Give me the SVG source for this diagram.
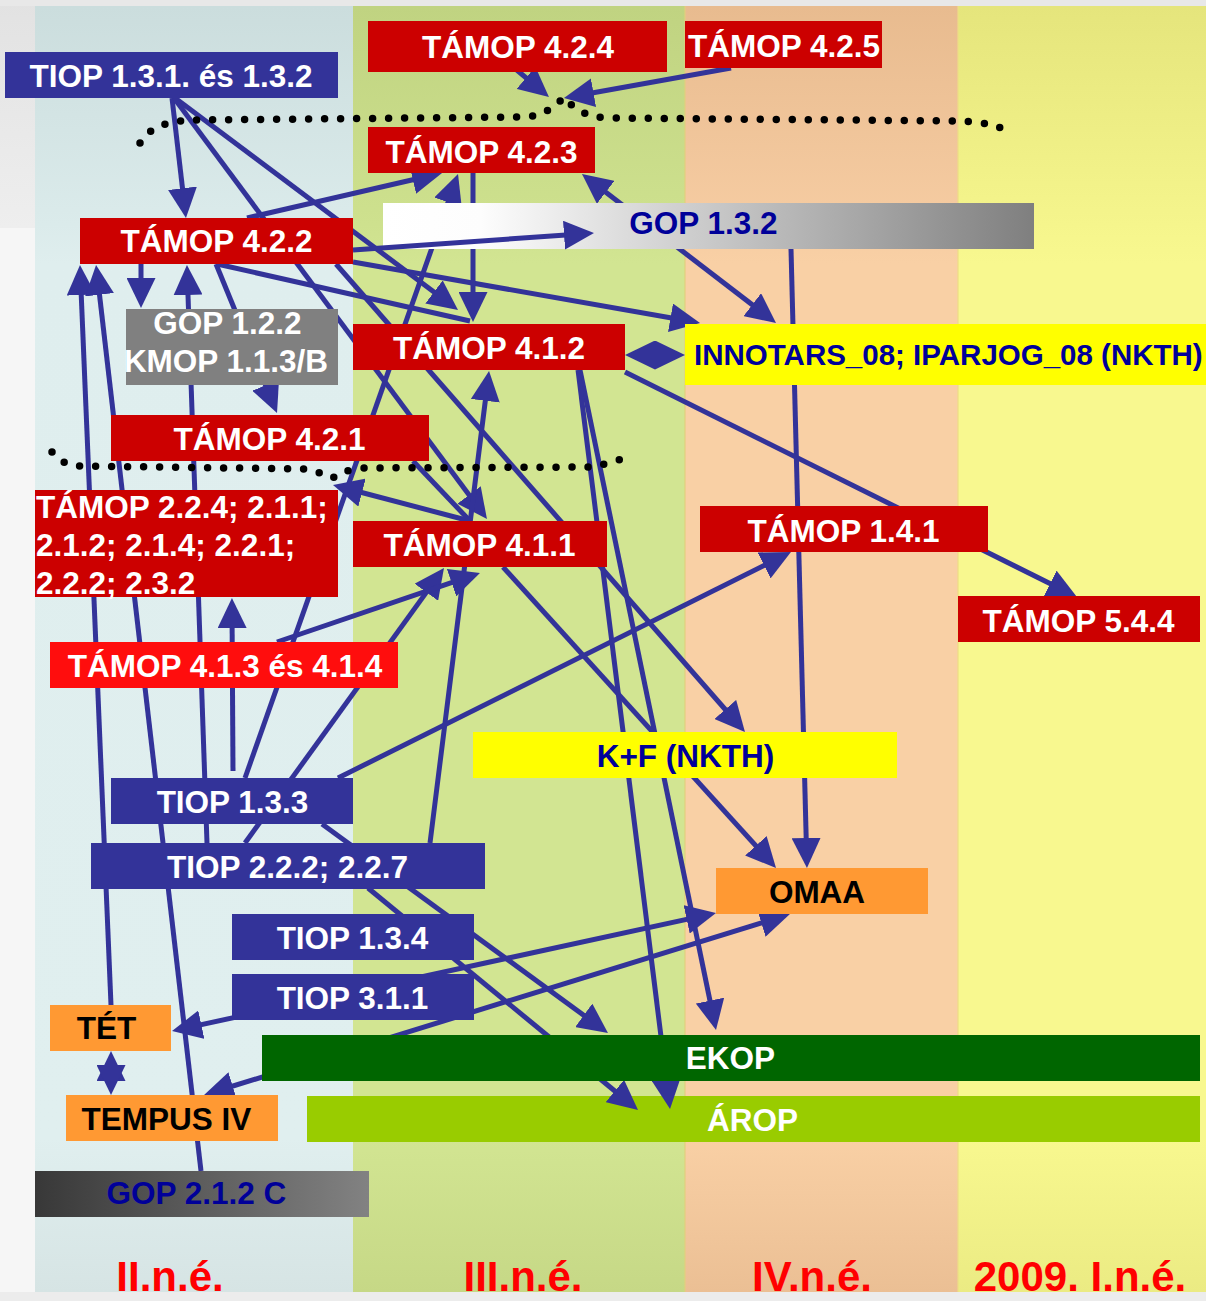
<svg xmlns="http://www.w3.org/2000/svg" width="1206" height="1301" viewBox="0 0 1206 1301">
<defs>
<style>
.n text{font-family:"Liberation Sans",Arial,sans-serif;font-weight:bold;font-size:31.5px;text-anchor:middle}
.w{fill:#ffffff}
.db{fill:#000099}
.k{fill:#000000}
.red{fill:#cc0000}
.blue{fill:#333399}
.org{fill:#ff9933}
.yel{fill:#ffff00}
.c{fill:none;stroke:#333399;stroke-width:5}
.dot{fill:none;stroke:#000000;stroke-width:7.5;stroke-linecap:round;stroke-dasharray:0 16}
.lab{font-family:"Liberation Sans",Arial,sans-serif;font-weight:bold;font-size:42px;fill:#ff0000;text-anchor:middle}
</style>
<marker id="ah" viewBox="0 0 30 29" refX="20" refY="14.5" markerWidth="30" markerHeight="29" markerUnits="userSpaceOnUse" orient="auto-start-reverse">
<path d="M0,0 L30,14.5 L0,29 z" fill="#333399"/>
</marker>
<linearGradient id="gc1" x1="0" y1="0" x2="0" y2="1">
<stop offset="0" stop-color="#cbdddd"/><stop offset="0.17" stop-color="#dbebeb"/><stop offset="0.2" stop-color="#dfeeee"/><stop offset="0.88" stop-color="#e0efef"/><stop offset="1" stop-color="#d6e4e4"/>
</linearGradient>
<linearGradient id="gc2" x1="0" y1="0" x2="0" y2="1">
<stop offset="0" stop-color="#c0d381"/><stop offset="0.17" stop-color="#cee18e"/><stop offset="0.2" stop-color="#d2e592"/><stop offset="0.88" stop-color="#d2e592"/><stop offset="1" stop-color="#c6d886"/>
</linearGradient>
<linearGradient id="gc3" x1="0" y1="0" x2="0" y2="1">
<stop offset="0" stop-color="#e8bb8f"/><stop offset="0.17" stop-color="#f6cca2"/><stop offset="0.2" stop-color="#f9d0a5"/><stop offset="0.88" stop-color="#f9d0a5"/><stop offset="1" stop-color="#ebbf94"/>
</linearGradient>
<linearGradient id="gc4" x1="0" y1="0" x2="0" y2="1">
<stop offset="0" stop-color="#e5e57c"/><stop offset="0.17" stop-color="#f5f58c"/><stop offset="0.2" stop-color="#f8f88f"/><stop offset="0.88" stop-color="#f8f88f"/><stop offset="1" stop-color="#ebeb83"/>
</linearGradient>
<linearGradient id="gleft" x1="0" y1="0" x2="0" y2="1">
<stop offset="0" stop-color="#e2e2e2"/><stop offset="1" stop-color="#eeeeee"/>
</linearGradient>
<linearGradient id="ggop132" x1="0" y1="0" x2="1" y2="0">
<stop offset="0" stop-color="#ffffff"/><stop offset="0.15" stop-color="#fdfdfd"/><stop offset="1" stop-color="#7f7f7f"/>
</linearGradient>
<linearGradient id="ggop212" x1="0" y1="0" x2="1" y2="0">
<stop offset="0" stop-color="#383838"/><stop offset="1" stop-color="#828282"/>
</linearGradient>
</defs>

<g id="background">
<rect x="0" y="0" width="1206" height="1301" fill="#f6f6f6"/>
<rect x="0" y="0" width="35" height="228" fill="url(#gleft)"/>
<rect x="0" y="0" width="1206" height="6" fill="#e8e8e8"/>
<rect x="35" y="6" width="318" height="1286" fill="url(#gc1)"/>
<rect x="353" y="6" width="332" height="1286" fill="url(#gc2)"/>
<rect x="685" y="6" width="273" height="1286" fill="url(#gc3)"/>
<rect x="958" y="6" width="248" height="1286" fill="url(#gc4)"/>
<line x1="685" y1="6" x2="685" y2="1292" stroke="#e2cf7e" stroke-width="1.2"/>
<line x1="958" y1="6" x2="958" y2="1292" stroke="#eedc86" stroke-width="1.2"/>
<rect x="0" y="1292" width="1206" height="9" fill="#ececec"/>
</g>

<g class="n">
<g id="n-arop"><rect x="307" y="1096" width="893" height="46" fill="#99cc00"/><text class="w" x="752.5" y="1131">ÁROP</text></g>
</g>

<g id="connectors">
<path class="c" d="M172,98 L184.8,208.1" marker-end="url(#ah)"/>
<path class="c" d="M175,98 L450,304" marker-end="url(#ah)"/>
<path class="c" d="M174,98 L481,511" marker-end="url(#ah)"/>
<path class="c" d="M247,218 L432.3,175.2" marker-end="url(#ah)"/>
<path class="c" d="M353,262 L690.2,321.3" marker-end="url(#ah)"/>
<path class="c" d="M141,264 L141,298" marker-end="url(#ah)"/>
<path class="c" d="M207,843 L187.3,275" marker-end="url(#ah)"/>
<path class="c" d="M216,264 L273.2,403.7" marker-end="url(#ah)"/>
<path class="c" d="M217,264 L470,321"/>
<path class="c" d="M336,264 L738.4,724.5" marker-end="url(#ah)"/>
<path class="c" d="M111,1005 L80.4,275" marker-end="url(#ah)"/>
<path class="c" d="M201,1171 L97.2,274.9" marker-end="url(#ah)"/>
<path class="c" d="M473,173 L473,312" marker-end="url(#ah)"/>
<path class="c" d="M589.9,180.1 L768.1,316.9" marker-start="url(#ah)" marker-end="url(#ah)"/>
<path class="c" d="M791,249 L806.7,858" marker-end="url(#ah)"/>
<path class="c" d="M635,355 L675,355" marker-start="url(#ah)" marker-end="url(#ah)"/>
<path class="c" d="M625,372 L1068,592.5" marker-end="url(#ah)"/>
<path class="c" d="M580,370 L714,1020.2" marker-end="url(#ah)"/>
<path class="c" d="M578,370 L668.8,1099.1" marker-end="url(#ah)"/>
<path class="c" d="M430,843 L487.8,380.9" marker-end="url(#ah)"/>
<path class="c" d="M233,771 L232,608" marker-end="url(#ah)"/>
<path class="c" d="M245,778 L454.7,183.4" marker-end="url(#ah)"/>
<path class="c" d="M245,843 L438.1,576.1" marker-end="url(#ah)"/>
<path class="c" d="M338,778 L782,556.5" marker-end="url(#ah)"/>
<path class="c" d="M322,824 L599.9,1027.1" marker-end="url(#ah)"/>
<path class="c" d="M368,888 L630.3,1103.7" marker-end="url(#ah)"/>
<path class="c" d="M277,642 L470.5,576.2" marker-end="url(#ah)"/>
<path class="c" d="M470,521 L342.7,487.5" marker-end="url(#ah)"/>
<path class="c" d="M413,461 L470,521"/>
<path class="c" d="M503,567 L769.3,860.6" marker-end="url(#ah)"/>
<path class="c" d="M181.8,1028.9 L706.2,915.1" marker-start="url(#ah)" marker-end="url(#ah)"/>
<path class="c" d="M213.6,1092 L780.4,917" marker-start="url(#ah)" marker-end="url(#ah)"/>
<path class="c" d="M512,66 L541.3,90.6" marker-end="url(#ah)"/>
<path class="c" d="M731,68 L573.8,96.2" marker-end="url(#ah)"/>
<path class="c" d="M111,1061 L111,1085" marker-start="url(#ah)" marker-end="url(#ah)"/>
</g>

<g id="group-outlines">
<path class="dot" d="M140,143 C150,126 170,120 198,120 L524,117 C540,116 552,110 564,97 C574,110 588,117 607,118 L960,121 C985,122 1000,126 1014,134"/>
<path class="dot" d="M52,452 C58,460 68,466 80,466 L306,469 C318,471 326,476 333,478 C338,474 345,470 363,468 L590,467 C600,466 612,462 622,459"/>
</g>

<g class="n">
<g id="n-tiop131"><rect class="blue" x="5" y="52" width="333" height="46"/><text class="w" x="171" y="87">TIOP 1.3.1. és 1.3.2</text></g>
<g id="n-tamop424"><rect class="red" x="368" y="21" width="299" height="51"/><text class="w" x="518" y="58">TÁMOP 4.2.4</text></g>
<g id="n-tamop425"><rect class="red" x="685" y="21" width="197" height="47"/><text class="w" x="784" y="57">TÁMOP 4.2.5</text></g>
<g id="n-tamop423"><rect class="red" x="368" y="127" width="227" height="46"/><text class="w" x="481.5" y="163">TÁMOP 4.2.3</text></g>
<g id="n-gop132"><rect x="383" y="203" width="651" height="46" fill="url(#ggop132)"/><text class="db" x="703.5" y="234">GOP 1.3.2</text></g>
<g id="n-tamop422"><rect class="red" x="80" y="218" width="273" height="46"/><text class="w" x="216.5" y="252">TÁMOP 4.2.2</text></g>
<g id="n-gop122"><rect x="126" y="309" width="212" height="76" fill="#808080"/><text class="w" x="227.5" y="334">GOP 1.2.2</text><text class="w" x="226" y="372">KMOP 1.1.3/B</text></g>
<g id="n-tamop412"><rect class="red" x="353" y="324" width="272" height="46"/><text class="w" x="489" y="359">TÁMOP 4.1.2</text></g>
<g id="n-innotars"><rect class="yel" x="685" y="324" width="521" height="61"/><text class="db" x="694" y="365" style="text-anchor:start;font-size:29.5px">INNOTARS_08; IPARJOG_08 (NKTH)</text></g>
<g id="n-tamop421"><rect class="red" x="111" y="415" width="318" height="46"/><text class="w" x="269.5" y="450">TÁMOP 4.2.1</text></g>
<g id="n-tamop224"><rect class="red" x="35" y="490" width="303" height="107"/><text class="w" style="text-anchor:start"><tspan x="36" y="518">TÁMOP 2.2.4; 2.1.1;</tspan><tspan x="36" y="556">2.1.2; 2.1.4; 2.2.1;</tspan><tspan x="36" y="594">2.2.2; 2.3.2</tspan></text></g>
<g id="n-tamop411"><rect class="red" x="353" y="521" width="254" height="46"/><text class="w" x="479.5" y="556">TÁMOP 4.1.1</text></g>
<g id="n-tamop141"><rect class="red" x="700" y="506" width="288" height="46"/><text class="w" x="843.5" y="542">TÁMOP 1.4.1</text></g>
<g id="n-tamop544"><rect class="red" x="958" y="596" width="242" height="46"/><text class="w" x="1078.5" y="632">TÁMOP 5.4.4</text></g>
<g id="n-tamop413"><rect x="50" y="642" width="348" height="46" fill="#ff0d0d"/><text class="w" x="225" y="677">TÁMOP 4.1.3 és 4.1.4</text></g>
<g id="n-kf"><rect class="yel" x="473" y="732" width="424" height="46"/><text class="db" x="685.5" y="767">K+F (NKTH)</text></g>
<g id="n-tiop133"><rect class="blue" x="111" y="778" width="242" height="46"/><text class="w" x="232.5" y="813">TIOP 1.3.3</text></g>
<g id="n-tiop222"><rect class="blue" x="91" y="843" width="394" height="46"/><text class="w" x="287.5" y="878">TIOP 2.2.2; 2.2.7</text></g>
<g id="n-omaa"><rect class="org" x="716" y="868" width="212" height="46"/><text class="k" x="817" y="903">OMAA</text></g>
<g id="n-tiop134"><rect class="blue" x="232" y="914" width="242" height="46"/><text class="w" x="352.5" y="949">TIOP 1.3.4</text></g>
<g id="n-tiop311"><rect class="blue" x="232" y="974" width="242" height="46"/><text class="w" x="352.5" y="1009">TIOP 3.1.1</text></g>
<g id="n-tet"><rect class="org" x="50" y="1005" width="121" height="46"/><text class="k" x="106.5" y="1039">TÉT</text></g>
<g id="n-ekop"><rect x="262" y="1035" width="938" height="46" fill="#006600"/><text class="w" x="730.5" y="1069">EKOP</text></g>
<g id="n-tempus"><rect class="org" x="66" y="1095" width="212" height="46"/><text class="k" x="166.5" y="1130">TEMPUS IV</text></g>
<g id="n-gop212"><rect x="35" y="1171" width="334" height="46" fill="url(#ggop212)"/><text class="db" x="196.5" y="1204">GOP 2.1.2 C</text></g>
</g>

<g id="connectors-over">
<path class="c" d="M353,250 L584,233.7" marker-end="url(#ah)"/>
</g>

<g id="period-labels">
<text class="lab" x="170" y="1291">II.n.é.</text>
<text class="lab" x="523" y="1291">III.n.é.</text>
<text class="lab" x="812" y="1291">IV.n.é.</text>
<text class="lab" x="1080" y="1291">2009. I.n.é.</text>
</g>
</svg>
